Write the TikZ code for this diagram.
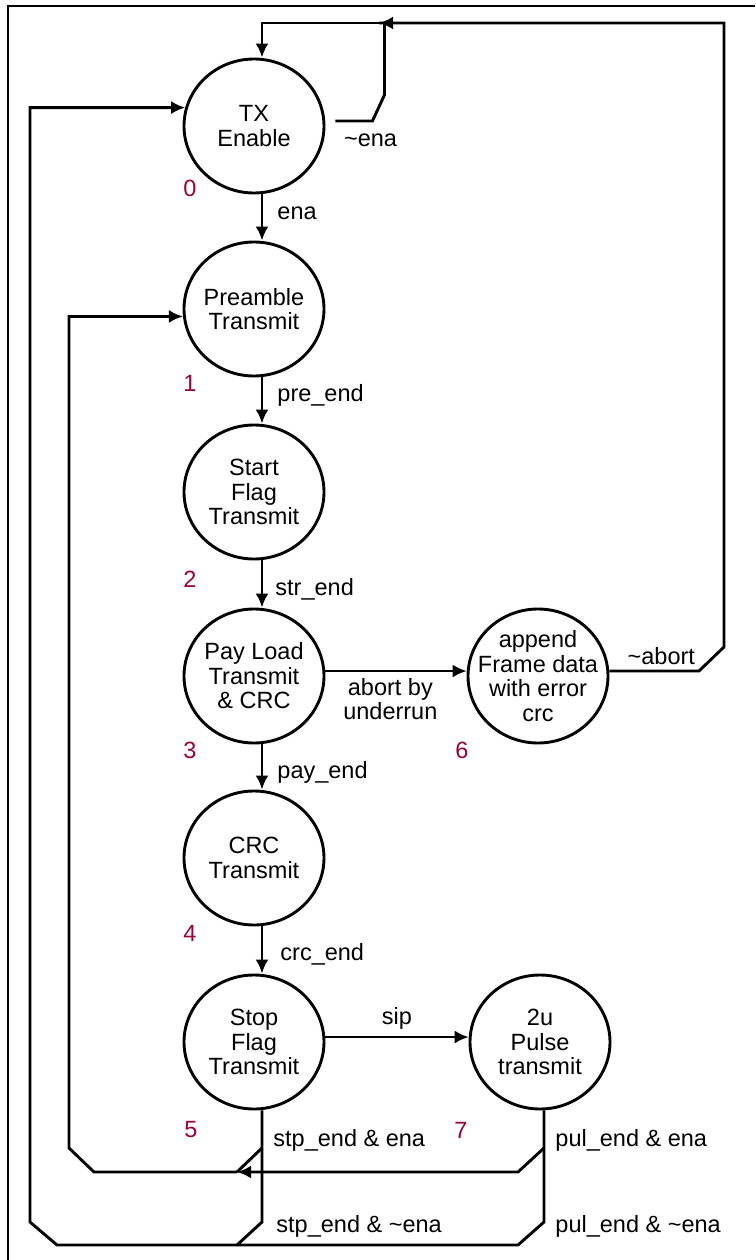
\documentclass[tikz,border=0pt]{standalone}
\usepackage{fontspec}
\setmainfont{Liberation Sans}
\usetikzlibrary{arrows.meta, shapes.geometric, positioning}
\definecolor{numred}{RGB}{158,0,60}

\begin{document}
\begin{tikzpicture}[x=1pt, y=-1pt,
      state/.style={draw, ellipse, line width=2.9pt, minimum width=140pt, minimum height=134pt, inner sep=-15pt, align=center, font=\fontsize{23.5}{24.5}\selectfont},
      wire/.style={line width=2.9pt},
      arr/.style={wire, -{Latex[length=14pt, width=13pt]}},
      lbl/.style={inner sep=0pt, font=\fontsize{23.5}{24}\selectfont},
      num/.style={inner sep=0pt, text=numred, font=\fontsize{23.5}{24}\selectfont}
    ]
      \useasboundingbox (0,0) rectangle (755,1260);
      \draw[line width=2.9pt] (755,6) -- (8,6) -- (8,1260);

      \node[state] (tx)   at (254,126)  {TX\\Enable};
      \node[state] (pre)  at (254,309)  {Preamble\\Transmit};
      \node[state] (sfl)  at (254,492)  {Start\\Flag\\Transmit};
      \node[state] (pay)  at (254,676)  {Pay Load\\Transmit\\\& CRC};
      \node[state] (crc)  at (254,858)  {CRC\\Transmit};
      \node[state] (stop) at (254,1042) {Stop\\Flag\\Transmit};
      \node[state] (ab6)  at (538,676)  {append\\Frame data\\with error\\crc};
      \node[state] (pul)  at (540,1042) {2u\\Pulse\\transmit};

      \node[num] (n0) at (190,188)  {0};
      \node[num] (n1) at (190,383)  {1};
      \node[num] (n2) at (190,579)  {2};
      \node[num] (n3) at (190,750)  {3};
      \node[num] (n4) at (190,933)  {4};
      \node[num] (n5) at (191,1130) {5};
      \node[num] (n6) at (462,750)  {6};
      \node[num] (n7) at (461,1130) {7};

      \coordinate (mtop) at (379,23);
      \coordinate (mena) at (237,1172);
      \coordinate (mbot) at (237,1245);
      \coordinate (sb)   at (262,1148);
      \coordinate (pb)   at (544,1148);

      % main chain
      \draw[arr] ([xshift=8pt]tx.south)  -- node[lbl, right=14pt, pos=.4]  {ena}      ([xshift=8pt]pre.north);
      \draw[arr] ([xshift=8pt]pre.south) -- node[lbl, right=14pt, pos=.38] {pre\_end} ([xshift=8pt]sfl.north);
      \draw[arr] ([xshift=8pt]sfl.south) -- node[lbl, right=12pt, pos=.62] {str\_end} ([xshift=8pt]pay.north);
      \draw[arr] ([xshift=8pt]pay.south) -- node[lbl, right=14pt, pos=.62] {pay\_end} ([xshift=8pt]crc.north);
      \draw[arr] ([xshift=8pt]crc.south) -- node[lbl, right=17pt, pos=.6]  {crc\_end} ([xshift=8pt]stop.north);

      \draw[arr] (pay.4)  -- node[lbl, below=6pt, pos=.46, align=center] {abort by\\underrun} (ab6.176);
      \draw[arr] (stop.4) -- node[lbl, above=6pt] {sip} (pul.176);

      % back to TX Enable
      \draw[arr] (ab6.4) -- node[lbl, above=5pt, pos=.58] {\textasciitilde abort} (699,671) -- (724,647) -- (724,23) -- (mtop);
      \draw[wire] ([xshift=10pt,yshift=5pt]tx.east) -- node[lbl, anchor=north, pos=.95, yshift=-11pt] {\textasciitilde ena} ++(37,0) -- ++(12,-26) |- (mtop);
      \draw[arr] (mtop) -| ([xshift=8pt]tx.north);

      % end of frame
      \draw[wire] ([xshift=8pt]stop.south) -- node[lbl, right=10pt, pos=.8] {stp\_end \& ena} (sb)
        -- (262,1222) node[lbl, right=13pt, yshift=-4pt] {stp\_end \& \textasciitilde ena} -- (mbot);
      \draw[wire] (sb) -- (mena);
      \draw[wire] ([xshift=4pt]pul.south) -- node[lbl, right=10pt, pos=.8] {pul\_end \& ena} (pb)
        -- (544,1222) node[lbl, right=10pt, yshift=-4pt] {pul\_end \& \textasciitilde ena} -- (518,1245) -- (mbot);
      \draw[arr] (pb) -- (518,1172) -- (mena);
      \draw[arr] (mena) -- (94,1172) -- (69,1148) |- (pre.186);
      \draw[arr] (mbot) -- (57,1245) -- (30,1222) |- (tx.165);
    \end{tikzpicture}
\end{document}
